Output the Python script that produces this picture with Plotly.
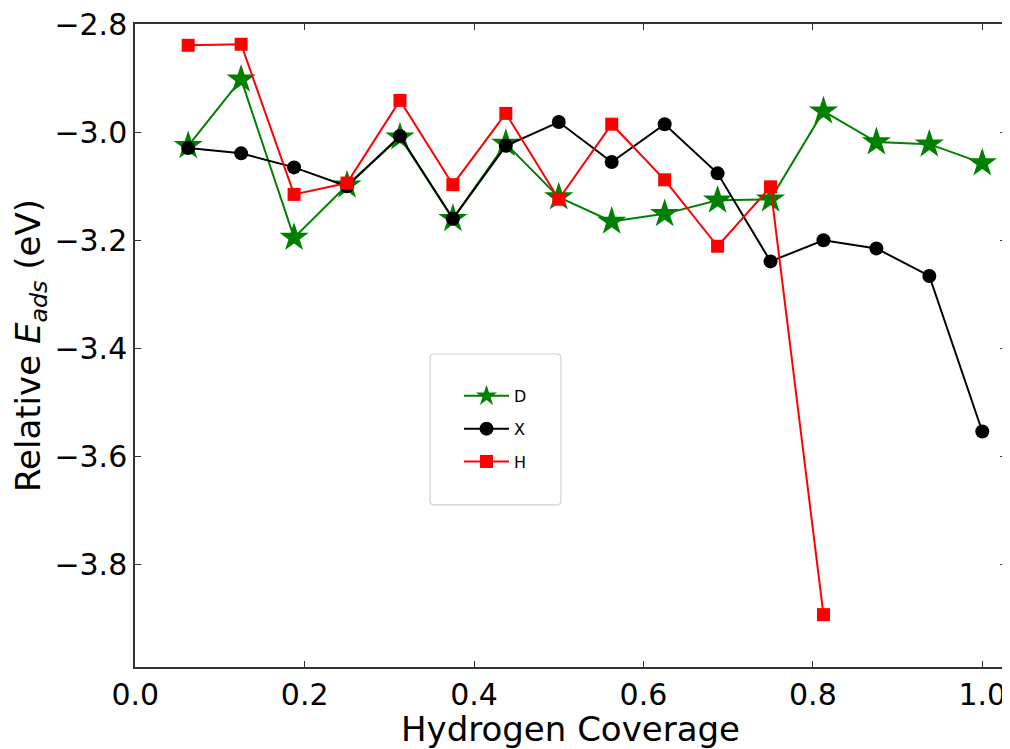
import plotly.graph_objects as go

coverage = [i / 16 for i in range(1, 17)]
coverage_h = coverage[:13]

d_vals = [-3.025, -2.902, -3.195, -3.098, -3.009, -3.160, -3.021, -3.120,
          -3.165, -3.151, -3.126, -3.124, -2.961, -3.018, -3.022, -3.057]
x_vals = [-3.029, -3.039, -3.065, -3.100, -3.007, -3.160, -3.025, -2.981,
          -3.055, -2.985, -3.076, -3.239, -3.200, -3.215, -3.266, -3.554]
h_vals = [-2.839, -2.837, -3.115, -3.094, -2.941, -3.097, -2.965, -3.124,
          -2.985, -3.088, -3.211, -3.101, -3.893]

x_ticks = [0.0, 0.2, 0.4, 0.6, 0.8, 1.0]
y_ticks = [-3.8, -3.6, -3.4, -3.2, -3.0, -2.8]

FONT = "DejaVu Sans"

fig = go.Figure()
fig.add_trace(go.Scatter(x=coverage, y=d_vals, name="D", mode="lines+markers",
                         legendgroup="D",
                         line=dict(color="green", width=2),
                         marker=dict(symbol="star", size=22, color="green")))
fig.add_trace(go.Scatter(x=coverage, y=x_vals, name="X", mode="lines+markers",
                         legendgroup="X",
                         line=dict(color="black", width=2),
                         marker=dict(symbol="circle", size=14, color="black")))
fig.add_trace(go.Scatter(x=coverage_h, y=h_vals, name="H", mode="lines+markers",
                         legendgroup="H",
                         line=dict(color="red", width=2),
                         marker=dict(symbol="square", size=13, color="red")))

axis_common = dict(
    showline=True, linecolor="#333333", linewidth=1.5, mirror="allticks",
    ticks="inside", ticklen=6, tickwidth=1.2, tickcolor="#333333",
    showgrid=False, zeroline=False, ticklabeloverflow="allow", automargin=False,
    tickfont=dict(family=FONT, size=30, color="black"),
)

fig.update_xaxes(range=[-0.0003, 1.028], tickvals=x_ticks,
                 ticktext=["%.1f" % v for v in x_ticks],
                 title=dict(text="Hydrogen Coverage", font=dict(family=FONT, size=34, color="black"),
                            standoff=6),
                 **axis_common)
fig.update_yaxes(range=[-3.99, -2.7995], tickvals=y_ticks,
                 ticktext=["\u2212%.1f" % abs(v) for v in y_ticks],
                 title=dict(text="Relative <i>E</i><sub><i>ads</i></sub> (eV)",
                            font=dict(family=FONT, size=34, color="black"), standoff=8),
                 **axis_common)

# legend frame
x0, x1 = 0.3387, 0.489
y0, y1 = 0.252, 0.4868
rx, ry = 0.005, 0.007
path = (f"M {x0+rx},{y0} L {x1-rx},{y0} Q {x1},{y0} {x1},{y0+ry} "
        f"L {x1},{y1-ry} Q {x1},{y1} {x1-rx},{y1} L {x0+rx},{y1} "
        f"Q {x0},{y1} {x0},{y1-ry} L {x0},{y0+ry} Q {x0},{y0} {x0+rx},{y0} Z")
fig.add_shape(type="path", path=path, xref="paper", yref="paper",
              line=dict(color="#d0d0d0", width=1.2), fillcolor="rgba(255,255,255,0.8)",
              layer="below")

fig.update_layout(
    width=1002, height=741,
    margin=dict(l=127, r=4, t=16, b=82),
    paper_bgcolor="white", plot_bgcolor="white",
    showlegend=True,
    legend=dict(x=0.372, y=0.448, xanchor="left", yanchor="top",
                bgcolor="rgba(0,0,0,0)", borderwidth=0,
                font=dict(family=FONT, size=16, color="black"),
                tracegroupgap=9, itemwidth=45),
)

fig.write_html("out.html")
